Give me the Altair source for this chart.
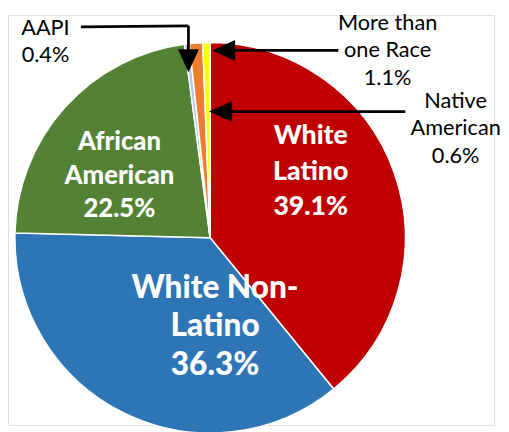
import altair as alt
import pandas as pd

# ---- data ----
categories = ["White Latino", "White Non-Latino", "African American",
              "AAPI", "More than one Race", "Native American"]
shares = [39.1, 36.3, 22.5, 0.4, 1.1, 0.6]
colors = ["#C00000", "#2E75B6", "#548235", "#B4C7E7", "#ED7D31", "#FFFF00"]

# labels drawn inside slices
inner_lines = ["White\nLatino\n39.1%", "White Non-\nLatino\n36.3%", "African\nAmerican\n22.5%"]
# callout labels for small slices
outer_lines = ["AAPI\n0.4%", "More than\none Race\n1.1%", "Native\nAmerican\n0.6%"]

W, H = 493, 416
CX, CY, R = 205, 226, 198

pie_df = pd.DataFrame({"cat": categories, "share": shares, "idx": list(range(len(categories)))})

xs = alt.Scale(domain=[0, W], range=[0, W])
ys = alt.Scale(domain=[0, H], range=[0, H])

pie = alt.Chart(pie_df).mark_arc(radius=R, stroke="white", strokeWidth=1.5).encode(
    theta=alt.Theta("share:Q", stack=True),
    order=alt.Order("idx:Q"),
    color=alt.Color("cat:N", scale=alt.Scale(domain=categories, range=colors), legend=None),
    x=alt.value(CX), y=alt.value(CY),
)

inner_df = pd.DataFrame({
    "t": inner_lines,
    "x": [307, 210, 113],
    "y": [131, 287, 137],
    "size": [27, 32, 26],
    "lh": [36, 39, 34],
})

def inner_text(i):
    row = inner_df.iloc[[i]]
    return alt.Chart(row).mark_text(
        font="Lato", fontWeight=900, fontSize=float(row["size"].iloc[0]),
        lineHeight=float(row["lh"].iloc[0]), lineBreak="\n",
        color="white", align="center", baseline="alphabetic",
    ).encode(
        x=alt.X("x:Q", scale=xs, axis=None),
        y=alt.Y("y:Q", scale=ys, axis=None),
        text="t:N",
    )

outer_df = pd.DataFrame({
    "t": outer_lines,
    "x": [38, 385, 454],
    "y": [20, 15, 94],
})
outer = alt.Chart(outer_df).mark_text(
    font="Lato", fontSize=22, lineHeight=28, lineBreak="\n",
    color="black", align="center", baseline="alphabetic",
).encode(
    x=alt.X("x:Q", scale=xs, axis=None),
    y=alt.Y("y:Q", scale=ys, axis=None),
    text="t:N",
)

seg_df = pd.DataFrame({
    "x": [74, 183, 214, 211],
    "y": [12, 11, 36, 98],
    "x2": [183, 183, 335, 403],
    "y2": [11, 50, 36, 98],
})
segs = alt.Chart(seg_df).mark_rule(color="black", strokeWidth=2.8).encode(
    x=alt.X("x:Q", scale=xs, axis=None),
    y=alt.Y("y:Q", scale=ys, axis=None),
    x2="x2:Q", y2="y2:Q",
)

head_down = pd.DataFrame({"x": [183], "y": [58]})
head_left = pd.DataFrame({"x": [207, 204], "y": [36, 98]})

hd = alt.Chart(head_down).mark_point(
    shape="M0,0 L-1,-2.2 L1,-2.2 Z", filled=True, opacity=1, color="black", size=450, strokeWidth=0,
).encode(x=alt.X("x:Q", scale=xs, axis=None), y=alt.Y("y:Q", scale=ys, axis=None))

hl = alt.Chart(head_left).mark_point(
    shape="M0,0 L2.2,-1 L2.2,1 Z", filled=True, opacity=1, color="black", size=450, strokeWidth=0,
).encode(x=alt.X("x:Q", scale=xs, axis=None), y=alt.Y("y:Q", scale=ys, axis=None))

chart = alt.layer(
    pie, segs, hd, hl, outer, inner_text(0), inner_text(1), inner_text(2)
).properties(
    width=W, height=H, padding=0,
).configure_view(stroke=None).configure(background="white")

chart.save("out.html", embed_options={"renderer": "svg", "actions": False})
